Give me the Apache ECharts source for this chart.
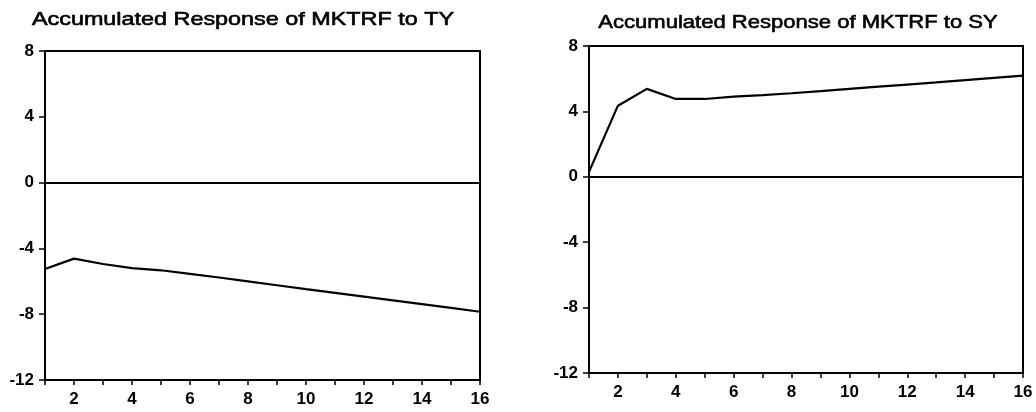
<!DOCTYPE html>
<html>
<head>
<meta charset="utf-8">
<title>Accumulated Response of MKTRF</title>
<script src="https://cdn.jsdelivr.net/npm/echarts@6/dist/echarts.min.js"></script>
<style>
  html, body { margin: 0; padding: 0; background: #fff; }
  #chart { width: 1036px; height: 412px; }
</style>
</head>
<body>
<div id="chart"></div>
<script>
// Periods after the shock
const steps = [1, 2, 3, 4, 5, 6, 7, 8, 9, 10, 11, 12, 13, 14, 15, 16];

// Accumulated response of MKTRF to a shock in TY
const responseTY = [-5.25, -4.62, -4.95, -5.2, -5.33, -5.55, -5.77, -6.0, -6.24, -6.48, -6.7, -6.93, -7.16, -7.39, -7.62, -7.85];

// Accumulated response of MKTRF to a shock in SY
const responseSY = [0.3, 4.35, 5.38, 4.76, 4.76, 4.9, 5.0, 5.11, 5.24, 5.38, 5.51, 5.64, 5.77, 5.91, 6.05, 6.19];

const panelTitles = ['Accumulated Response of MKTRF to TY', 'Accumulated Response of MKTRF to SY'];
const yTicks = { min: -12, max: 8, step: 4 };

const FONT = "'Liberation Sans', Arial, sans-serif";
const INK = '#000';

function xAxisFor(gridIndex) {
  return {
    type: 'value',
    gridIndex: gridIndex,
    min: steps[0],
    max: steps[steps.length - 1],
    interval: 1,
    axisLine: { show: true, onZero: false, lineStyle: { color: INK, width: 2 } },
    axisTick: { show: true, length: 5, lineStyle: { color: INK, width: 1.5 } },
    axisLabel: {
      margin: 11,
      color: INK,
      fontFamily: FONT,
      fontWeight: 'bold',
      fontSize: 17,
      formatter: v => (v % 2 === 0 ? String(v) : '')
    },
    splitLine: { show: false }
  };
}

function yAxisFor(gridIndex) {
  return {
    type: 'value',
    gridIndex: gridIndex,
    min: yTicks.min,
    max: yTicks.max,
    interval: yTicks.step,
    axisLine: { show: true, onZero: false, lineStyle: { color: INK, width: 2 } },
    axisTick: { show: true, length: 6, lineStyle: { color: INK, width: 1.5 } },
    axisLabel: {
      margin: 11,
      color: INK,
      fontFamily: FONT,
      fontWeight: 'bold',
      fontSize: 17
    },
    splitLine: { show: false }
  };
}

function responseSeries(values, index) {
  return {
    type: 'line',
    xAxisIndex: index,
    yAxisIndex: index,
    data: steps.map((s, i) => [s, values[i]]),
    symbol: 'none',
    lineStyle: { color: INK, width: 2.2 },
    silent: true,
    markLine: {
      silent: true,
      symbol: 'none',
      label: { show: false },
      lineStyle: { color: INK, width: 2, type: 'solid' },
      data: [{ yAxis: 0 }]
    }
  };
}

// Panel headings: wide-set sans text centred over each plot
function heading(text, cx, top, stretch) {
  return {
    type: 'text',
    x: cx,
    y: top,
    scaleX: stretch,
    silent: true,
    style: {
      text: text,
      fill: INK,
      stroke: INK,
      lineWidth: 0.6,
      font: 'normal 19px ' + FONT,
      textAlign: 'center',
      textVerticalAlign: 'top'
    }
  };
}

const chart = echarts.init(document.getElementById('chart'), null, { renderer: 'canvas' });

chart.setOption({
  animation: false,
  backgroundColor: '#fff',
  graphic: [
    heading(panelTitles[0], 243, 10, 1.23),
    heading(panelTitles[1], 798, 13, 1.16)
  ],
  grid: [
    { left: 45, right: 556, top: 51, bottom: 32, show: true, borderColor: INK, borderWidth: 2, containLabel: false },
    { left: 589, right: 13, top: 46, bottom: 39, show: true, borderColor: INK, borderWidth: 2, containLabel: false }
  ],
  xAxis: [xAxisFor(0), xAxisFor(1)],
  yAxis: [yAxisFor(0), yAxisFor(1)],
  series: [responseSeries(responseTY, 0), responseSeries(responseSY, 1)]
});
</script>
</body>
</html>
